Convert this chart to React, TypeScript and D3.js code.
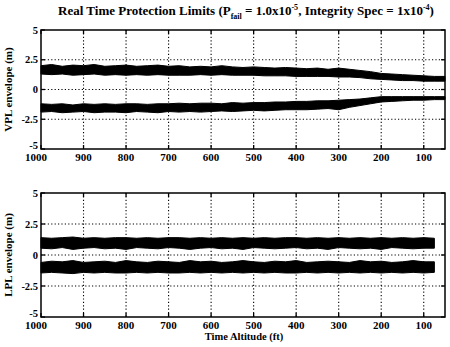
import React from "react";
import * as d3 from "d3";

const xTicks = [1000, 900, 800, 700, 600, 500, 400, 300, 200, 100];
const yTicks = [5, 2.5, 0, -2.5, -5];
const yTickLabels = ["5", "2.5", "0", "-2.5", "-5"];

const altV = [1000, 975, 950, 925, 900, 875, 850, 825, 800, 775, 750, 725, 700, 675, 650, 625, 600, 575, 550, 525, 500, 475, 450, 425, 400, 375, 350, 325, 300, 275, 250, 225, 200, 175, 150, 125, 100, 75, 50];
const vplUpHi = [2.0, 2.1, 1.95, 2.05, 2.0, 2.1, 1.95, 2.0, 2.05, 1.95, 2.0, 2.05, 1.95, 2.0, 1.9, 1.95, 1.9, 2.0, 1.9, 1.85, 1.9, 1.85, 1.8, 1.85, 1.8, 1.75, 1.8, 1.7, 1.8, 1.7, 1.6, 1.5, 1.35, 1.3, 1.25, 1.2, 1.15, 1.1, 1.1];
const vplUpLo = [1.3, 1.25, 1.3, 1.2, 1.25, 1.3, 1.2, 1.25, 1.2, 1.25, 1.2, 1.25, 1.2, 1.2, 1.2, 1.25, 1.2, 1.25, 1.2, 1.2, 1.2, 1.15, 1.15, 1.15, 1.1, 1.1, 1.1, 1.1, 1.05, 1.05, 1.0, 0.9, 0.85, 0.8, 0.75, 0.75, 0.7, 0.7, 0.7];
const vplLoHi = [-1.2, -1.25, -1.2, -1.3, -1.2, -1.25, -1.2, -1.25, -1.2, -1.2, -1.25, -1.2, -1.2, -1.15, -1.2, -1.15, -1.15, -1.2, -1.1, -1.15, -1.1, -1.1, -1.05, -1.05, -1.0, -1.0, -0.95, -0.95, -0.9, -0.85, -0.8, -0.7, -0.6, -0.6, -0.6, -0.6, -0.6, -0.6, -0.6];
const vplLoLo = [-1.9, -1.85, -1.95, -1.9, -1.85, -1.95, -1.9, -1.9, -1.95, -1.85, -1.9, -1.95, -1.85, -1.9, -1.85, -1.9, -1.85, -1.8, -1.85, -1.8, -1.75, -1.8, -1.75, -1.7, -1.7, -1.7, -1.65, -1.6, -1.7, -1.5, -1.35, -1.2, -1.05, -1.0, -0.95, -0.9, -0.9, -0.85, -0.85];

const altL = [1000, 975, 950, 925, 900, 875, 850, 825, 800, 775, 750, 725, 700, 675, 650, 625, 600, 575, 550, 525, 500, 475, 450, 425, 400, 375, 350, 325, 300, 275, 250, 225, 200, 175, 150, 125, 100, 75];
const lplUpHi = [1.4, 1.35, 1.4, 1.45, 1.35, 1.4, 1.35, 1.4, 1.4, 1.35, 1.4, 1.35, 1.4, 1.4, 1.35, 1.4, 1.35, 1.4, 1.35, 1.4, 1.35, 1.4, 1.35, 1.4, 1.4, 1.35, 1.4, 1.35, 1.4, 1.35, 1.4, 1.35, 1.4, 1.35, 1.4, 1.35, 1.4, 1.35];
const lplUpLo = [0.55, 0.5, 0.6, 0.45, 0.55, 0.6, 0.5, 0.55, 0.45, 0.6, 0.55, 0.5, 0.6, 0.55, 0.45, 0.55, 0.6, 0.5, 0.55, 0.45, 0.6, 0.55, 0.5, 0.55, 0.6, 0.5, 0.55, 0.45, 0.6, 0.55, 0.5, 0.55, 0.45, 0.6, 0.55, 0.5, 0.55, 0.55];
const lplLoHi = [-0.6, -0.5, -0.55, -0.45, -0.6, -0.55, -0.5, -0.6, -0.45, -0.55, -0.6, -0.5, -0.55, -0.6, -0.45, -0.55, -0.5, -0.6, -0.55, -0.45, -0.55, -0.6, -0.5, -0.55, -0.45, -0.6, -0.55, -0.5, -0.55, -0.6, -0.45, -0.55, -0.5, -0.6, -0.55, -0.45, -0.55, -0.55];
const lplLoLo = [-1.45, -1.4, -1.45, -1.5, -1.4, -1.45, -1.4, -1.45, -1.45, -1.4, -1.45, -1.4, -1.45, -1.45, -1.4, -1.45, -1.4, -1.45, -1.4, -1.45, -1.4, -1.45, -1.4, -1.45, -1.45, -1.4, -1.45, -1.4, -1.45, -1.4, -1.45, -1.4, -1.45, -1.4, -1.45, -1.4, -1.45, -1.4];

const FONT = "'Liberation Serif', 'DejaVu Serif', serif";

type Band = { alt: number[]; hi: number[]; lo: number[] };

function Panel({ top, bottom, ylabel, bands }: { top: number; bottom: number; ylabel: string; bands: Band[] }) {
  const left = 41, right = 445;
  const x = d3.scaleLinear().domain([1000, 50]).range([left, right]);
  const y = d3.scaleLinear().domain([-5, 5]).range([bottom, top]);
  return (
    <g>
      {xTicks.slice(1).map((t) => (
        <line key={"gx" + t} x1={x(t)} x2={x(t)} y1={top} y2={bottom} stroke="#000" strokeWidth={1.1} strokeDasharray="1.2 2.2" />
      ))}
      {[2.5, 0, -2.5].map((t) => (
        <line key={"gy" + t} x1={left} x2={right} y1={y(t)} y2={y(t)} stroke="#000" strokeWidth={1.1} strokeDasharray="1.2 2.2" />
      ))}
      {bands.map((b, bi) => {
        const pts = b.alt.map((_, i) => i);
        const gen = d3.area<number>()
          .x((i) => x(b.alt[i]))
          .y0((i) => y(b.lo[i]))
          .y1((i) => y(b.hi[i]))
          .curve(d3.curveLinear);
        return <path key={bi} d={gen(pts) || ""} fill="#000" stroke="#000" strokeWidth={1} />;
      })}
      <rect x={left} y={top} width={right - left} height={bottom - top} fill="none" stroke="#000" strokeWidth={1.5} />
      {xTicks.map((t) => (
        <g key={"tx" + t}>
          <line x1={x(t)} x2={x(t)} y1={bottom} y2={bottom - 4} stroke="#000" strokeWidth={1.3} />
          <line x1={x(t)} x2={x(t)} y1={top} y2={top + 4} stroke="#000" strokeWidth={1.3} />
          <text x={t === 1000 ? x(t) - 5 : x(t)} y={bottom + 12} textAnchor="middle" fontFamily={FONT} fontWeight="bold" fontSize={11}>{t}</text>
        </g>
      ))}
      {yTicks.map((t, i) => (
        <g key={"ty" + t}>
          <line x1={left} x2={left + 4} y1={y(t)} y2={y(t)} stroke="#000" strokeWidth={1.3} />
          <line x1={right} x2={right - 4} y1={y(t)} y2={y(t)} stroke="#000" strokeWidth={1.3} />
          <text x={left - 3} y={y(t) + (t === -5 ? 0 : 3.5)} textAnchor="end" fontFamily={FONT} fontWeight="bold" fontSize={10.5}>{yTickLabels[i]}</text>
        </g>
      ))}
      <text transform={`translate(12,${(top + bottom) / 2}) rotate(-90)`} textAnchor="middle" fontFamily={FONT} fontWeight="bold" fontSize={11}>{ylabel}</text>
    </g>
  );
}

export default function App() {
  return (
    <svg width={450} height={347} style={{ position: "absolute", left: 0, top: 0, background: "#fff" }}>
      <rect width={450} height={347} fill="#fff" />
      <text x={246} y={15} textAnchor="middle" fontFamily={FONT} fontWeight="bold" fontSize={13}>
        Real Time Protection Limits (P
        <tspan fontSize={8} dy={4}>fail</tspan>
        <tspan dy={-4}> = 1.0x10</tspan>
        <tspan fontSize={8} dy={-5}>-5</tspan>
        <tspan dy={5}>, Integrity Spec =  1x10</tspan>
        <tspan fontSize={8} dy={-5}>-4</tspan>
        <tspan dy={5}>)</tspan>
      </text>
      <Panel top={30} bottom={149} ylabel="VPL envelope (m)" bands={[
        { alt: altV, hi: vplUpHi, lo: vplUpLo },
        { alt: altV, hi: vplLoHi, lo: vplLoLo },
      ]} />
      <Panel top={193} bottom={317} ylabel="LPL envelope (m)" bands={[
        { alt: altL, hi: lplUpHi, lo: lplUpLo },
        { alt: altL, hi: lplLoHi, lo: lplLoLo },
      ]} />
      <text x={244} y={340} textAnchor="middle" fontFamily={FONT} fontWeight="bold" fontSize={10.5}>Time Altitude (ft)</text>
    </svg>
  );
}
